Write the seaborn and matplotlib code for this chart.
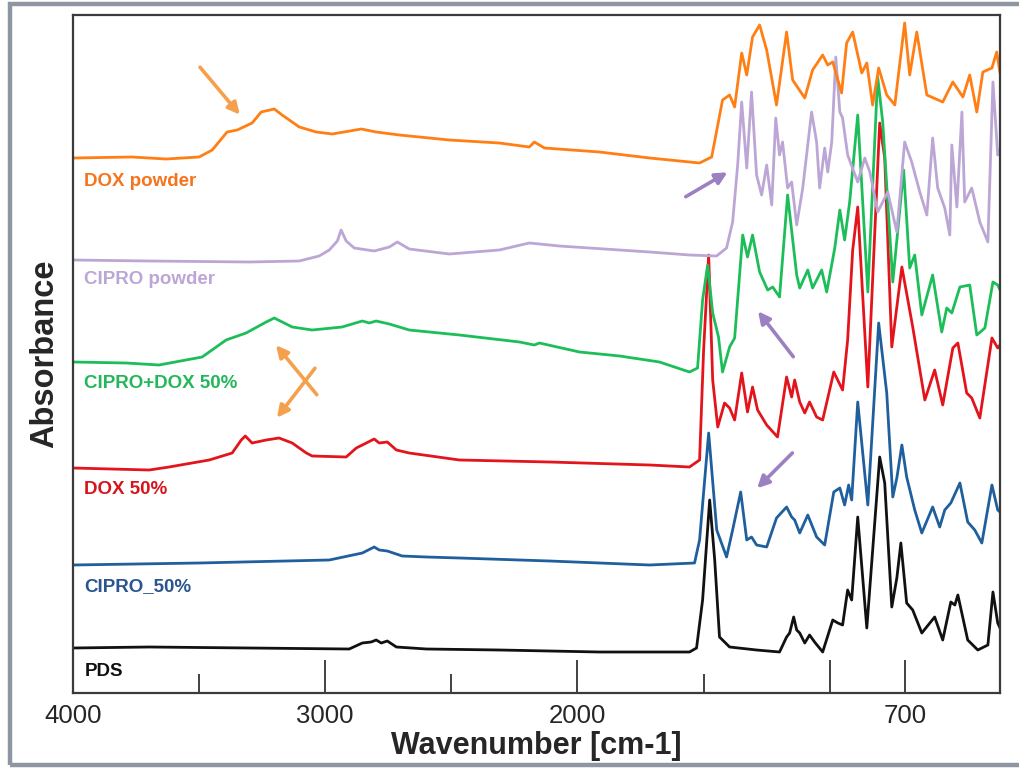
import matplotlib
matplotlib.use("Agg")
import matplotlib.pyplot as plt
from matplotlib.patches import Rectangle
import seaborn as sns

# ---------------- data ----------------
pds_wn = [4000, 3698, 3302, 2905, 2853, 2818, 2798, 2778, 2754, 2718, 2599, 2310, 1913, 1556, 1528,
          1504, 1476, 1456, 1437, 1397, 1290, 1199, 1171, 1159, 1143, 1131, 1119, 1099, 1080, 1060,
          1028, 988, 968, 949, 929, 913, 889, 853, 802, 782, 754, 734, 718, 695, 671, 635, 584, 552,
          520, 504, 492, 453, 413, 373, 353, 334, 325]
pds_abs = [0.45, 0.46, 0.45, 0.44, 0.50, 0.51, 0.53, 0.50, 0.52, 0.46, 0.44, 0.43, 0.41, 0.41, 0.45,
           0.93, 1.93, 1.33, 0.56, 0.46, 0.43, 0.41, 0.56, 0.60, 0.76, 0.63, 0.60, 0.50, 0.58, 0.51,
           0.41, 0.73, 0.70, 0.68, 1.03, 0.93, 1.76, 0.65, 2.36, 2.10, 0.86, 1.15, 1.50, 0.90, 0.83,
           0.60, 0.76, 0.53, 0.91, 0.88, 0.98, 0.53, 0.43, 0.48, 1.01, 0.70, 0.65]

cipro50_wn = [4000, 3500, 2984, 2853, 2806, 2786, 2754, 2695, 2599, 2468, 2111, 1714, 1536, 1516, 1480,
              1448, 1409, 1385, 1353, 1329, 1310, 1290, 1250, 1211, 1171, 1151, 1139, 1119, 1087, 1052,
              1020, 984, 960, 941, 925, 913, 889, 849, 806, 774, 750, 734, 714, 695, 663, 635, 592,
              564, 544, 520, 484, 453, 425, 397, 357, 334, 325]
cipro50_abs = [1.28, 1.30, 1.33, 1.40, 1.46, 1.43, 1.42, 1.37, 1.36, 1.35, 1.32, 1.28, 1.30, 1.53, 2.60,
               1.63, 1.36, 1.63, 2.01, 1.53, 1.56, 1.48, 1.46, 1.75, 1.86, 1.76, 1.73, 1.60, 1.78, 1.56,
               1.48, 2.01, 2.05, 1.88, 2.08, 1.93, 2.91, 1.88, 3.70, 3.00, 1.96, 2.15, 2.48, 2.16, 1.83,
               1.60, 1.86, 1.66, 1.83, 1.90, 2.10, 1.71, 1.63, 1.50, 2.08, 1.83, 1.81]

dox50_wn = [4000, 3698, 3619, 3460, 3369, 3333, 3317, 3290, 3234, 3183, 3131, 3075, 3052, 2917, 2877,
            2837, 2806, 2786, 2754, 2718, 2667, 2468, 2111, 1714, 1556, 1516, 1500, 1480, 1464, 1444,
            1417, 1397, 1377, 1349, 1326, 1306, 1286, 1250, 1207, 1171, 1151, 1139, 1119, 1099, 1080,
            1052, 1028, 984, 949, 929, 909, 889, 849, 802, 782, 754, 714, 671, 623, 584, 552, 512,
            492, 457, 437, 405, 357, 334, 325]
dox50_abs = [2.25, 2.23, 2.26, 2.33, 2.40, 2.53, 2.57, 2.50, 2.53, 2.55, 2.50, 2.40, 2.37, 2.36, 2.45,
             2.50, 2.54, 2.50, 2.51, 2.43, 2.40, 2.33, 2.31, 2.28, 2.26, 2.33, 3.43, 4.38, 3.13, 2.66,
             2.90, 2.85, 2.73, 3.20, 2.81, 3.06, 2.83, 2.68, 2.56, 3.16, 2.96, 3.13, 2.91, 2.80, 2.91,
             2.76, 2.73, 3.21, 3.03, 3.53, 4.43, 4.86, 3.06, 5.70, 5.35, 3.46, 4.26, 3.66, 2.93, 3.23,
             2.88, 3.45, 3.50, 3.00, 2.95, 2.75, 3.55, 3.45, 3.48]

mix_wn = [4000, 3790, 3659, 3488, 3393, 3314, 3234, 3202, 3131, 3052, 2933, 2853, 2825, 2798, 2746,
          2667, 2468, 2230, 2171, 2151, 1992, 1833, 1675, 1556, 1524, 1504, 1484, 1464, 1441, 1425,
          1397, 1377, 1345, 1326, 1306, 1278, 1246, 1226, 1199, 1167, 1131, 1119, 1087, 1068, 1032,
          1012, 980, 960, 941, 921, 889, 849, 810, 790, 750, 707, 683, 663, 635, 592, 556, 536, 516,
          484, 445, 417, 385, 353, 334, 325]
mix_abs = [3.31, 3.30, 3.28, 3.36, 3.53, 3.60, 3.71, 3.75, 3.66, 3.63, 3.66, 3.72, 3.70, 3.72, 3.69,
           3.63, 3.58, 3.51, 3.48, 3.50, 3.41, 3.37, 3.31, 3.21, 3.25, 3.93, 4.28, 3.80, 3.56, 3.21,
           3.46, 3.55, 4.58, 4.36, 4.58, 4.21, 4.03, 4.06, 3.96, 4.98, 4.18, 4.05, 4.23, 4.05, 4.23,
           4.01, 4.45, 4.83, 4.53, 4.91, 5.78, 4.01, 6.16, 5.71, 4.11, 5.23, 4.25, 4.38, 3.78, 4.18,
           3.61, 3.85, 3.80, 4.06, 4.08, 3.58, 3.65, 4.11, 4.08, 4.03]

ciprop_wn = [4000, 3698, 3302, 3103, 3024, 2984, 2952, 2937, 2917, 2885, 2806, 2746, 2714, 2667, 2508,
             2310, 2191, 2072, 1714, 1556, 1449, 1409, 1385, 1365, 1349, 1329, 1310, 1290, 1270, 1250,
             1230, 1214, 1199, 1187, 1167, 1151, 1131, 1107, 1072, 1052, 1040, 1020, 1008, 992, 976,
             960, 949, 929, 889, 861, 841, 810, 770, 734, 703, 675, 643, 615, 592, 572, 544, 524, 516,
             496, 476, 465, 437, 405, 373, 353, 334, 325]
ciprop_abs = [4.33, 4.32, 4.31, 4.32, 4.37, 4.43, 4.52, 4.63, 4.52, 4.45, 4.42, 4.46, 4.51, 4.44, 4.39,
              4.43, 4.50, 4.47, 4.41, 4.38, 4.37, 4.45, 4.71, 5.28, 5.91, 5.25, 6.01, 5.18, 4.98, 5.28,
              4.88, 5.75, 5.38, 5.51, 5.05, 5.11, 4.68, 5.05, 5.81, 5.51, 5.05, 5.45, 5.21, 5.51, 6.36,
              5.81, 5.75, 5.38, 5.11, 5.35, 5.21, 4.81, 5.01, 4.61, 5.51, 5.31, 5.01, 4.78, 5.55, 5.05,
              4.85, 4.58, 5.48, 4.86, 5.81, 4.91, 5.05, 4.71, 4.51, 6.11, 5.38, 5.43]

doxp_wn = [4000, 3766, 3631, 3500, 3448, 3389, 3349, 3290, 3254, 3202, 3171, 3103, 3036, 2972, 2857,
           2798, 2706, 2508, 2310, 2191, 2171, 2131, 1913, 1714, 1516, 1468, 1425, 1397, 1377, 1349,
           1329, 1306, 1278, 1250, 1211, 1171, 1147, 1099, 1068, 1028, 1008, 988, 953, 933, 909, 873,
           853, 830, 806, 774, 742, 703, 683, 655, 615, 552, 512, 472, 445, 417, 393, 357, 338, 325]
doxp_abs = [5.35, 5.36, 5.34, 5.36, 5.43, 5.61, 5.63, 5.70, 5.81, 5.84, 5.78, 5.66, 5.61, 5.59, 5.64,
            5.61, 5.58, 5.53, 5.50, 5.46, 5.51, 5.45, 5.41, 5.35, 5.30, 5.36, 5.93, 5.98, 5.86, 6.40,
            6.18, 6.56, 6.68, 6.43, 5.88, 6.61, 6.13, 5.95, 6.23, 6.38, 6.28, 6.31, 6.00, 6.50, 6.61,
            6.20, 6.30, 5.88, 6.25, 5.98, 5.88, 6.70, 6.18, 6.61, 5.98, 5.91, 6.11, 5.96, 6.18, 5.81,
            6.21, 6.25, 6.41, 6.20]

series_names = ["PDS", "CIPRO_50%", "DOX 50%", "CIPRO+DOX 50%", "CIPRO powder", "DOX powder"]
series_colors = ["#111111", "#1f5f9e", "#e3141b", "#1dbe5a", "#bca6d6", "#ff7f14"]
label_colors = ["#111111", "#2a5590", "#d8141b", "#22b85a", "#bca6d6", "#f5741c"]
label_y = [0.22, 1.06, 2.03, 3.10, 4.13, 5.12]

x_ticks_major = [4000, 3000, 2000, 1000, 700]
x_tick_labels = ["4000", "3000", "2000", "", "700"]
x_ticks_minor = [3500, 2500, 1500]

# ---------------- plotting ----------------
sns.set_style("white")
plt.rcParams["font.family"] = ["Liberation Sans", "DejaVu Sans"]

fig = plt.figure(figsize=(10.19, 7.69), dpi=100)
ax = fig.add_axes([73 / 1019, 76 / 769, 927 / 1019, 678 / 769])

data = [(pds_wn, pds_abs), (cipro50_wn, cipro50_abs), (dox50_wn, dox50_abs),
        (mix_wn, mix_abs), (ciprop_wn, ciprop_abs), (doxp_wn, doxp_abs)]
for (wn, ab), name, col in zip(data, series_names, series_colors):
    sns.lineplot(x=wn, y=ab, ax=ax, color=col, linewidth=2.0, sort=False,
                 estimator=None, legend=False)

for name, lc, ly in zip(series_names, label_colors, label_y):
    ax.text(3955, ly, name, color=lc, fontsize=13.5, fontweight="bold",
            ha="left", va="center")

ax.set_xlim(4000, 325)
ax.set_ylim(0, 6.78)
ax.set_xticks(x_ticks_major)
ax.set_xticklabels(x_tick_labels, fontsize=18.5)
ax.set_xticks(x_ticks_minor, minor=True)
ax.tick_params(axis="x", which="major", direction="in", length=24, width=1.3,
               color="#333333", pad=8, bottom=True)
ax.tick_params(axis="x", which="minor", direction="in", length=13.5, width=1.3,
               color="#333333", bottom=True)
ax.set_yticks([])
ax.set_xlabel("Wavenumber [cm-1]", fontsize=22, fontweight="bold", labelpad=2)
ax.set_ylabel("Absorbance", fontsize=23.5, fontweight="bold", labelpad=9)
for sp in ax.spines.values():
    sp.set_color("#3a3a3a")
    sp.set_linewidth(1.6)

# annotation arrows (axes-fraction positions)
orange_arrow = "#f5a04c"
purple_arrow = "#9c80c2"
arrows = [((0.137, 0.923), (0.180, 0.853), orange_arrow),
          ((0.661, 0.732), (0.706, 0.768), purple_arrow),
          ((0.263, 0.440), (0.219, 0.513), orange_arrow),
          ((0.261, 0.479), (0.220, 0.406), orange_arrow),
          ((0.777, 0.496), (0.739, 0.563), purple_arrow),
          ((0.776, 0.354), (0.738, 0.302), purple_arrow)]
for tail, head, col in arrows:
    ax.annotate("", xy=head, xytext=tail, xycoords="axes fraction",
                textcoords="axes fraction",
                arrowprops=dict(arrowstyle="-|>,head_length=0.7,head_width=0.35",
                                color=col, lw=2.6, shrinkA=0, shrinkB=0))

# outer grey frame
fig.patches.append(Rectangle((9.5 / 1019, 4 / 769), 1.2, 761 / 769,
                             transform=fig.transFigure, fill=False,
                             edgecolor="#8e97a1", linewidth=3.2, zorder=0))

fig.savefig("out.png", dpi=100)
